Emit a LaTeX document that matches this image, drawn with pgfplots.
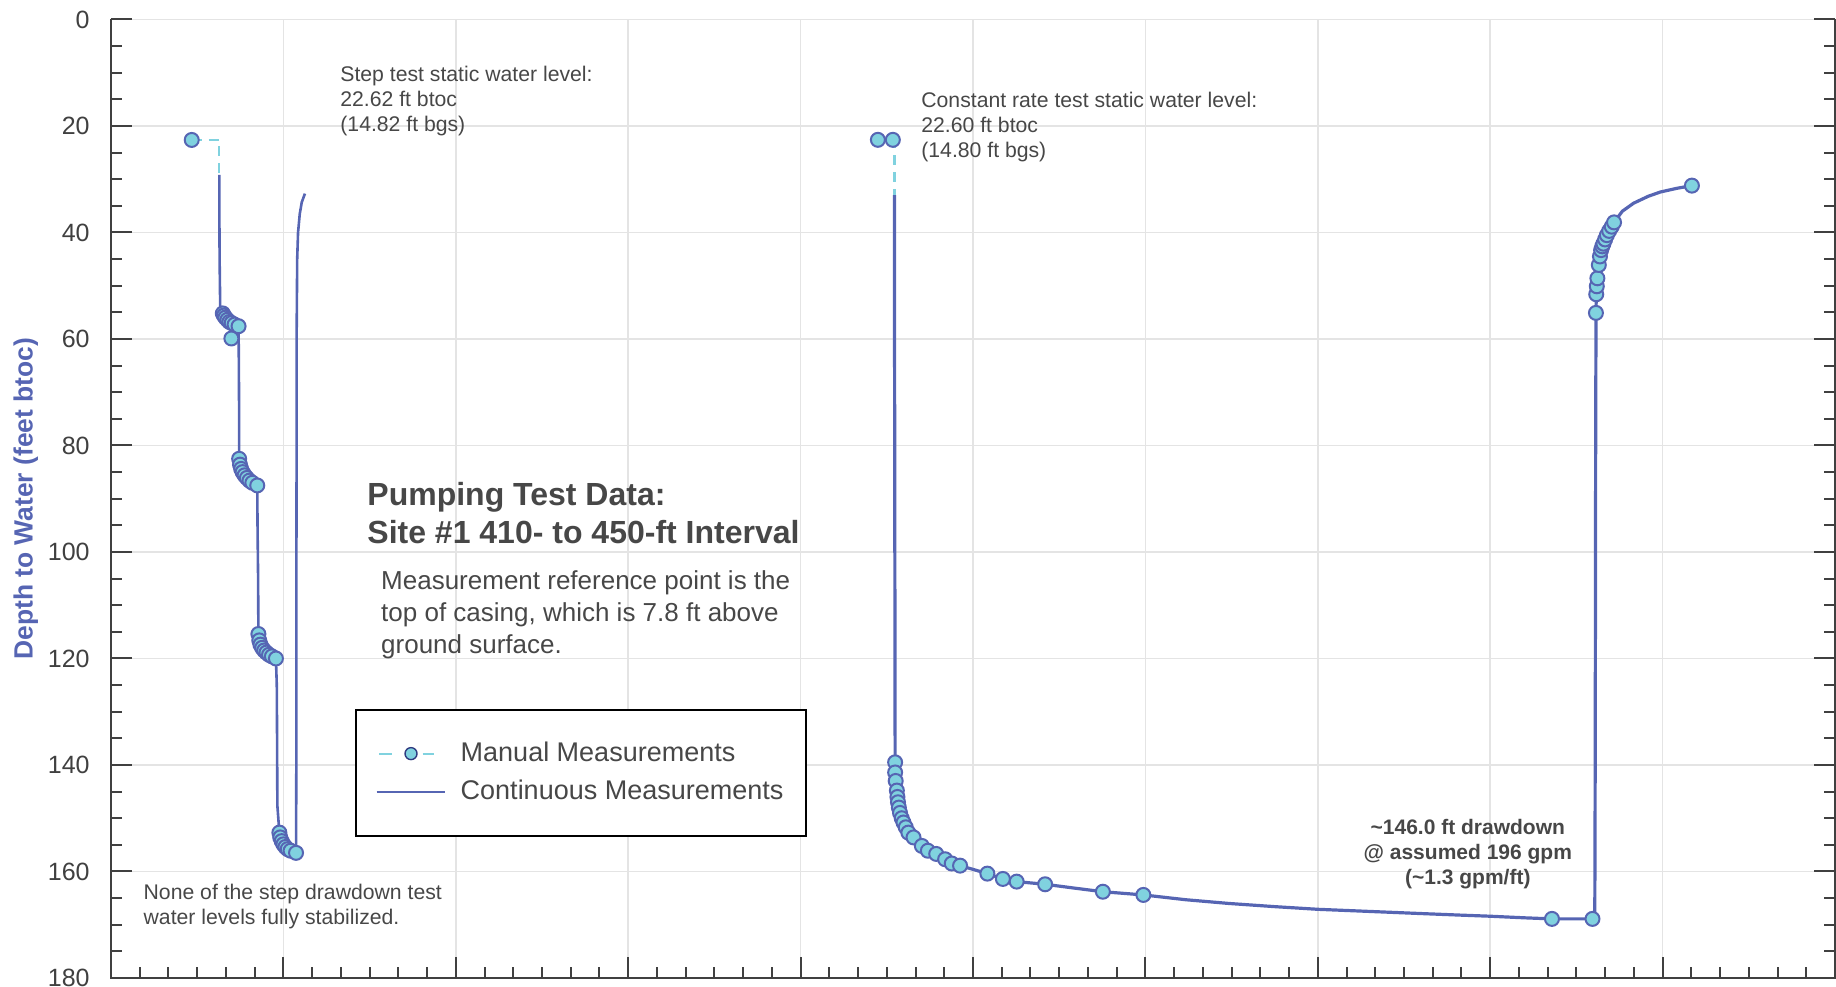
\documentclass[border=0pt]{standalone}
\usepackage{fontspec}
\setmainfont{Liberation Sans}
\usepackage{pgfplots}
\pgfplotsset{compat=1.18}

\definecolor{linblue}{HTML}{5665B3}
\definecolor{dotfill}{HTML}{80D2DF}
\definecolor{dotnavy}{HTML}{2E3A80}
\definecolor{axisgray}{HTML}{404040}
\definecolor{gridgray}{HTML}{E4E4E4}
\definecolor{txtgray}{HTML}{474747}

\begin{document}
\begin{tikzpicture}
\begin{axis}[
    scale only axis, width=862pt, height=479.25pt,
    xmin=0, xmax=60, ymin=0, ymax=180, y dir=reverse,
    clip=false,
    axis line style={draw=none},
    xtick={0,6,...,60}, xticklabels={}, minor x tick num=5,
    ytick={0,20,...,180}, minor y tick num=3,
    xtick pos=bottom, ytick pos=both, yticklabel pos=left,
    tick align=inside,
    major tick length=10.3pt, minor tick length=5.3pt,
    tick style={axisgray, line width=1pt},
    grid=major, major grid style={gridgray, line width=0.75pt},
    /pgf/number format/assume math mode=true,
    yticklabel style={font=\fontsize{12.5}{14}\selectfont, text=axisgray, inner sep=0pt, xshift=-10.5pt},
    ylabel={Depth to Water (feet btoc)},
    ylabel style={at={(axis description cs:-0.0494,0.5)}, anchor=center,
      font=\bfseries\fontsize{13.2}{15}\selectfont, text=linblue},
    legend cell align=left,
    legend style={at={(axis cs:8.493,129.47)}, anchor=north west,
      draw=black, line width=1pt, fill=white,
      inner xsep=9.65pt, inner ysep=15.85pt, row sep=7.15pt,
      font=\fontsize{13.5}{16}\selectfont, text=txtgray,
      nodes={inner sep=0pt, text height=10pt, text depth=2pt},
      /tikz/every odd column/.append style={column sep=7.2pt}},
]

% manual measurements, dashed connector to the static level
\addplot[dotfill, line width=1.1pt, dash pattern=on 5pt off 3.5pt,
  legend image code/.code={
    \draw[dotfill, line width=1.1pt, solid] (1.2pt,0pt) -- (7.5pt,0pt);
    \draw[dotfill, line width=1.1pt, solid] (23pt,0pt) -- (28.7pt,0pt);
    \filldraw[solid, fill=dotfill, draw=dotnavy, line width=0.7pt] (17.2pt,0pt) circle (3pt);
  }] coordinates {(2.81,22.62) (3.77,22.62) (3.77,29.2)};
\addlegendentry{Manual Measurements}
\addplot[dotfill, line width=1.1pt, dash pattern=on 5pt off 3.5pt, forget plot]
  coordinates {(27.21,22.6) (27.27,22.6) (27.27,33)};

% continuous measurements, step test
\addplot[linblue, line width=1.3pt,
  legend image code/.code={\draw[linblue, line width=1.3pt] (0pt,0pt) -- (34.2pt,0pt);}]
  coordinates {
  (3.77,29.2) (3.77,34.5) (3.78,45) (3.80,53.7) (3.84,55.2) (3.90,55.9) (3.98,56.4)
  (4.08,56.9) (4.22,57.2) (4.40,57.5) (4.44,57.7) (4.45,65) (4.46,75) (4.46,82.5)
  (4.50,84.0) (4.56,84.9) (4.64,85.6) (4.74,86.2) (4.86,86.8) (4.98,87.2) (5.09,87.5)
  (5.10,95) (5.12,105) (5.13,115.4) (5.17,116.8) (5.23,117.7) (5.31,118.4) (5.41,119.0)
  (5.52,119.4) (5.63,119.8) (5.74,120.0) (5.77,125) (5.78,135) (5.79,147.6) (5.86,152.7)
  (5.90,153.8) (5.97,154.6) (6.06,155.3) (6.17,155.8) (6.30,156.2) (6.44,156.5)
  (6.45,140) (6.45,110) (6.46,80) (6.46,60) (6.48,45) (6.51,40) (6.57,36.5)
  (6.64,34.3) (6.75,32.7)
  };
\addlegendentry{Continuous Measurements\hspace*{1.8pt}}

% continuous measurements, constant rate test and recovery
\addplot[linblue, line width=1.6pt, forget plot] coordinates {
  (27.27,33) (27.27,60) (27.28,100) (27.29,139.5) (27.32,143) (27.37,146) (27.40,148.6)
  (27.52,150.5) (27.64,151.7) (27.75,152.7) (27.93,153.6) (28.22,155.2) (28.43,156.1)
  (28.72,156.7) (29.03,157.7) (29.26,158.5) (29.55,158.9) (30.0,159.6) (30.50,160.4)
  (31.04,161.4) (31.52,161.9) (32.51,162.4) (33.5,163.1) (34.52,163.8) (35.93,164.4)
  (37.4,165.3) (38.9,166.0) (40.5,166.6) (42.0,167.1) (43.8,167.5) (45.6,167.9)
  (47.0,168.2) (48.0,168.4) (49.2,168.7) (50.15,168.9) (51.0,168.9) (51.56,168.9)
  (51.64,168) (51.65,150) (51.66,120) (51.67,80) (51.68,60) (51.68,55.1) (51.70,50)
  (51.75,47) (51.80,45) (51.90,42.6) (52.06,40.5) (52.23,38.9) (52.31,38.1) (52.6,36.0)
  (52.99,34.5) (53.5,33.2) (53.92,32.4) (54.5,31.7) (55.02,31.2)
  };

% manual measurement points
\addplot[only marks, mark=*, mark size=3.5pt, forget plot,
  mark options={solid, fill=dotfill, draw=linblue, line width=1pt}] coordinates {
  (2.81,22.62)
  (3.89,55.2) (3.93,55.6) (3.98,56.0) (4.05,56.4) (4.12,56.8) (4.20,57.0) (4.30,57.3) (4.19,59.9) (4.44,57.6)
  (4.46,82.5) (4.49,83.6) (4.53,84.4) (4.58,85.0) (4.65,85.6) (4.73,86.1) (4.82,86.6) (4.92,87.0) (5.09,87.5)
  (5.13,115.4) (5.16,116.6) (5.20,117.4) (5.26,118.0) (5.33,118.5) (5.41,118.9) (5.50,119.3) (5.60,119.6) (5.74,120.0)
  (5.86,152.7) (5.89,153.6) (5.94,154.3) (6.00,154.9) (6.07,155.4) (6.15,155.8) (6.25,156.1) (6.44,156.5)
  (26.69,22.6) (27.21,22.6)
  (27.29,139.5) (27.29,141.4) (27.31,143.0) (27.35,144.8) (27.37,146.0) (27.39,147.0) (27.42,148.0)
  (27.46,149.0) (27.52,150.0) (27.58,150.8) (27.66,151.7) (27.75,152.7) (27.93,153.6) (28.22,155.2)
  (28.43,156.1) (28.72,156.7) (29.03,157.7) (29.26,158.5) (29.55,158.9) (30.50,160.4) (31.04,161.4)
  (31.52,161.9) (32.51,162.4) (34.52,163.8) (35.93,164.4) (50.15,168.9) (51.56,168.9)
  (51.68,55.1) (51.69,51.6) (51.71,50.1) (51.73,48.6) (51.78,46.1) (51.82,44.5) (51.86,43.3)
  (51.90,42.6) (51.94,42.1) (52.00,41.3) (52.06,40.5) (52.14,39.7) (52.23,38.9) (52.31,38.1)
  (55.02,31.2)
  };

% annotations (base anchor = baseline of the last line)
\node[anchor=base west, align=left, inner sep=0pt, text=txtgray, font=\fontsize{10.6}{12.4}\selectfont]
  at (axis cs:7.97,21.02) {Step test static water level:\\22.62 ft btoc\\(14.82 ft bgs)};
\node[anchor=base west, align=left, inner sep=0pt, text=txtgray, font=\fontsize{10.6}{12.4}\selectfont]
  at (axis cs:28.19,25.85) {Constant rate test static water level:\\22.60 ft btoc\\(14.80 ft bgs)};
\node[anchor=base west, align=left, inner sep=0pt, text=txtgray, font=\bfseries\fontsize{16}{19.2}\selectfont]
  at (axis cs:8.91,98.46) {Pumping Test Data:\\Site \#1 410- to 450-ft Interval};
\node[anchor=base west, align=left, inner sep=0pt, text=txtgray, font=\fontsize{13}{16}\selectfont]
  at (axis cs:9.39,119.14) {Measurement reference point is the\\top of casing, which is 7.8 ft above\\ground surface.};
\node[anchor=base west, align=left, inner sep=0pt, text=txtgray, font=\fontsize{10.6}{12.85}\selectfont]
  at (axis cs:1.124,170.0) {None of the step drawdown test\\water levels fully stabilized.};
\node[anchor=base, align=center, inner sep=0pt, text=txtgray, font=\bfseries\fontsize{10.5}{12.5}\selectfont]
  at (axis cs:47.22,162.37) {\textasciitilde146.0 ft drawdown\\@ assumed 196 gpm\\(\textasciitilde1.3 gpm/ft)};

% axis frame: left, bottom and right, no top line
\draw[axisgray, line width=1pt] (axis cs:0,0) -- (axis cs:0,180) -- (axis cs:60,180) -- (axis cs:60,0);

\coordinate (bl) at (axis cs:0,180);
\coordinate (tr) at (axis cs:60,0);
\end{axis}
\pgfresetboundingbox
\path[use as bounding box] ([xshift=-55.5pt,yshift=-4.5pt]bl) rectangle ([xshift=0.5pt,yshift=9.75pt]tr);
\end{tikzpicture}
\end{document}
